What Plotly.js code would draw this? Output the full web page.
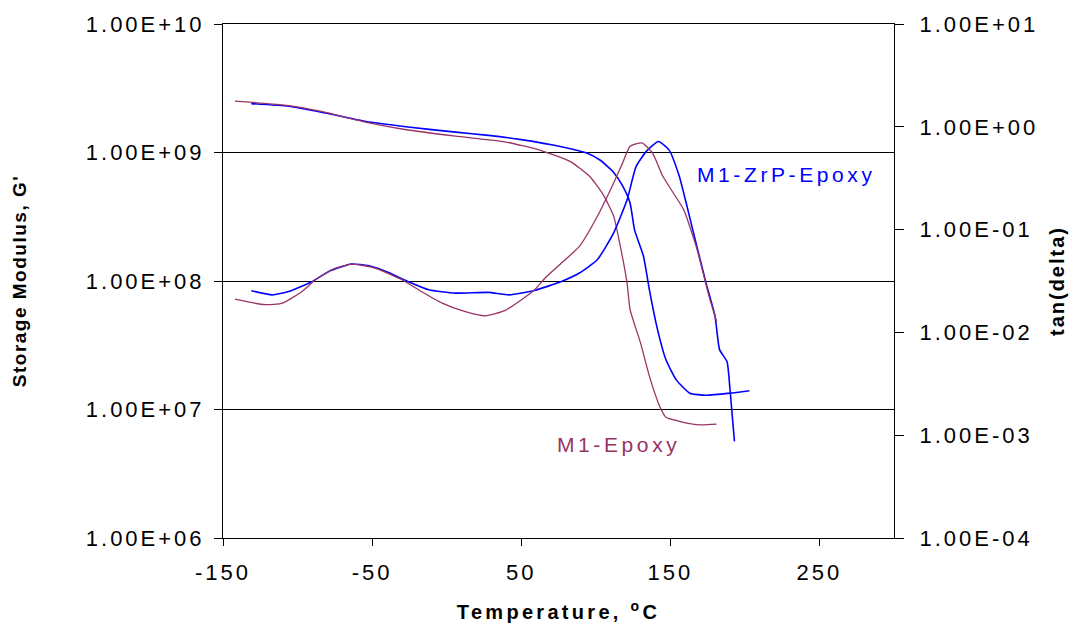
<!DOCTYPE html>
<html>
<head>
<meta charset="utf-8">
<script src="https://cdn.plot.ly/plotly-3.0.1.min.js"></script>
<style>
  html, body { margin: 0; padding: 0; background: #fff; }
  #chart { width: 1073px; height: 626px; }
  .xtick text, .ytick text, .y2tick text { letter-spacing: 3px; }
  .xtitle { letter-spacing: 3.3px; }
  .ytitle { letter-spacing: 1.5px; }
  .y2title { letter-spacing: 2px; }
  .annotation-text { letter-spacing: 3.6px; }
</style>
</head>
<body>
<div id="chart"></div>
<script>
// ---- Data ----
// Storage modulus G' (left axis)
const tempZrPG = [-131, -106, -84, -55, -26, 6, 28, 50, 77, 94, 103, 112, 118, 123, 126, 132, 136, 141, 147, 154, 163, 174, 190, 203];
const gZrP = [2.40e9, 2.29e9, 2.06e9, 1.75e9, 1.58e9, 1.44e9, 1.36e9, 1.26e9, 1.11e9, 9.9e8, 8.7e8, 7.0e8, 5.5e8, 4.05e8, 2.5e8, 1.56e8, 8.5e7, 4.4e7, 2.45e7, 1.7e7, 1.34e7, 1.29e7, 1.34e7, 1.40e7];

const tempEpoxyG = [-142, -106, -84, -52, -28, 6, 39, 62, 83, 96, 105, 112, 116, 121, 123, 130, 136, 143, 147, 156, 170, 181];
const gEpoxy = [2.51e9, 2.32e9, 2.09e9, 1.70e9, 1.51e9, 1.34e9, 1.21e9, 1.05e9, 8.5e8, 6.5e8, 4.7e8, 3.2e8, 1.98e8, 9.6e7, 6.0e7, 3.3e7, 1.81e7, 1.05e7, 8.7e6, 8.1e6, 7.6e6, 7.7e6];

// tan(delta) (right axis)
const tempZrPTan = [-131, -117, -106, -90, -79, -64, -52, -39, -26, -12, 6, 28, 42, 59, 77, 89, 101, 112, 121, 127, 134, 142, 149, 156, 165, 174, 180, 183, 188, 190, 193];
const tanZrP = [0.0254, 0.0232, 0.0250, 0.0313, 0.0392, 0.0462, 0.0445, 0.0383, 0.0313, 0.0260, 0.0241, 0.0245, 0.0232, 0.0256, 0.0313, 0.0378, 0.0509, 0.093, 0.195, 0.41, 0.58, 0.72, 0.60, 0.33, 0.100, 0.030, 0.0143, 0.0068, 0.0052, 0.0028, 0.00087];

const tempEpoxyTan = [-142, -122, -110, -97, -88, -77, -64, -48, -30, -17, -3, 12, 26, 39, 50, 59, 66, 77, 89, 101, 112, 118, 123, 131, 138, 145, 152, 159, 168, 176, 181];
const tanEpoxy = [0.0211, 0.0186, 0.0193, 0.0250, 0.0325, 0.0407, 0.0462, 0.0423, 0.0325, 0.0250, 0.0193, 0.0160, 0.0145, 0.0163, 0.0207, 0.0260, 0.0338, 0.0473, 0.0686, 0.134, 0.284, 0.445, 0.646, 0.697, 0.557, 0.330, 0.227, 0.156, 0.0637, 0.0224, 0.0128];

// Ticks
const xTickVals = [-150, -50, 50, 150, 250];
const xTickText = ["-150", "-50", "50", "150", "250"];
const yLeftTickVals = [1e6, 1e7, 1e8, 1e9, 1e10];
const yLeftTickText = ["1.00E+06", "1.00E+07", "1.00E+08", "1.00E+09", "1.00E+10"];
const yRightTickVals = [1e-4, 1e-3, 1e-2, 1e-1, 1e0, 1e1];
const yRightTickText = ["1.00E-04", "1.00E-03", "1.00E-02", "1.00E-01", "1.00E+00", "1.00E+01"];

// Series labels
const labelZrP = "M1-ZrP-Epoxy";
const labelEpoxy = "M1-Epoxy";

const BLUE = "#0000FF";
const PLUM = "#993366";
const FONT = "Liberation Sans, Arial, sans-serif";

const blueLine = { color: BLUE, width: 1.6, shape: "spline", smoothing: 0.5 };
const plumLine = { color: PLUM, width: 1.3, shape: "spline", smoothing: 0.5 };

const traces = [
  { x: tempZrPG, y: gZrP, mode: "lines", line: blueLine, name: labelZrP + " G'", xaxis: "x", yaxis: "y" },
  { x: tempEpoxyG, y: gEpoxy, mode: "lines", line: plumLine, name: labelEpoxy + " G'", xaxis: "x", yaxis: "y" },
  { x: tempZrPTan, y: tanZrP, mode: "lines", line: blueLine, name: labelZrP + " tan(delta)", xaxis: "x", yaxis: "y2" },
  { x: tempEpoxyTan, y: tanEpoxy, mode: "lines", line: plumLine, name: labelEpoxy + " tan(delta)", xaxis: "x", yaxis: "y2" }
];

const layout = {
  width: 1073, height: 626,
  margin: { l: 223, r: 179, t: 24, b: 88, pad: 0 },
  paper_bgcolor: "#ffffff", plot_bgcolor: "#ffffff",
  showlegend: false,
  font: { family: FONT, size: 22, color: "#000" },
  xaxis: {
    range: [-150, 300], tickvals: xTickVals, ticktext: xTickText,
    ticks: "outside", ticklen: 7, tickcolor: "#000", tickwidth: 1,
    ticklabelstandoff: 8,
    showline: true, linecolor: "#000", linewidth: 1, mirror: true,
    showgrid: false, zeroline: false,
    tickfont: { family: FONT, size: 22, color: "#000" },
    title: { text: "Temperature, <sup>o</sup>C", font: { family: FONT, size: 20, color: "#000", weight: "bold" }, standoff: 20 }
  },
  yaxis: {
    type: "log", range: [6, 10], tickvals: yLeftTickVals, ticktext: yLeftTickText,
    ticks: "outside", ticklen: 8, tickcolor: "#000", tickwidth: 1,
    ticklabelstandoff: 5,
    showline: true, linecolor: "#000", linewidth: 1,
    showgrid: true, gridcolor: "#000", gridwidth: 1, zeroline: false,
    tickfont: { family: FONT, size: 22, color: "#000" },
    title: { text: "Storage Modulus, G'", font: { family: FONT, size: 19, color: "#000", weight: "bold" }, standoff: 54 }
  },
  yaxis2: {
    type: "log", range: [-4, 1], overlaying: "y", side: "right", anchor: "x",
    tickvals: yRightTickVals, ticktext: yRightTickText,
    ticks: "outside", ticklen: 9, tickcolor: "#000", tickwidth: 1,
    ticklabelstandoff: 11,
    showline: true, linecolor: "#000", linewidth: 1,
    showgrid: false, zeroline: false,
    tickfont: { family: FONT, size: 22, color: "#000" },
    title: { text: "tan(delta)", font: { family: FONT, size: 20, color: "#000", weight: "bold" }, standoff: 12 }
  },
  yaxis3: {
    type: "log", range: [-4, 1], overlaying: "y", side: "right", anchor: "x",
    tickvals: yRightTickVals, showticklabels: false,
    ticks: "inside", ticklen: 8, tickcolor: "#000", tickwidth: 1,
    showline: false, showgrid: false, zeroline: false
  },
  annotations: [
    { text: labelZrP, x: 228, y: 8.83, xref: "x", yref: "y", showarrow: false,
      font: { family: FONT, size: 21, color: BLUE } },
    { text: labelEpoxy, x: 115, y: 6.725, xref: "x", yref: "y", showarrow: false,
      font: { family: FONT, size: 21, color: PLUM } }
  ]
};

Plotly.newPlot("chart", traces, layout, { displayModeBar: false, staticPlot: true });
</script>
</body>
</html>
